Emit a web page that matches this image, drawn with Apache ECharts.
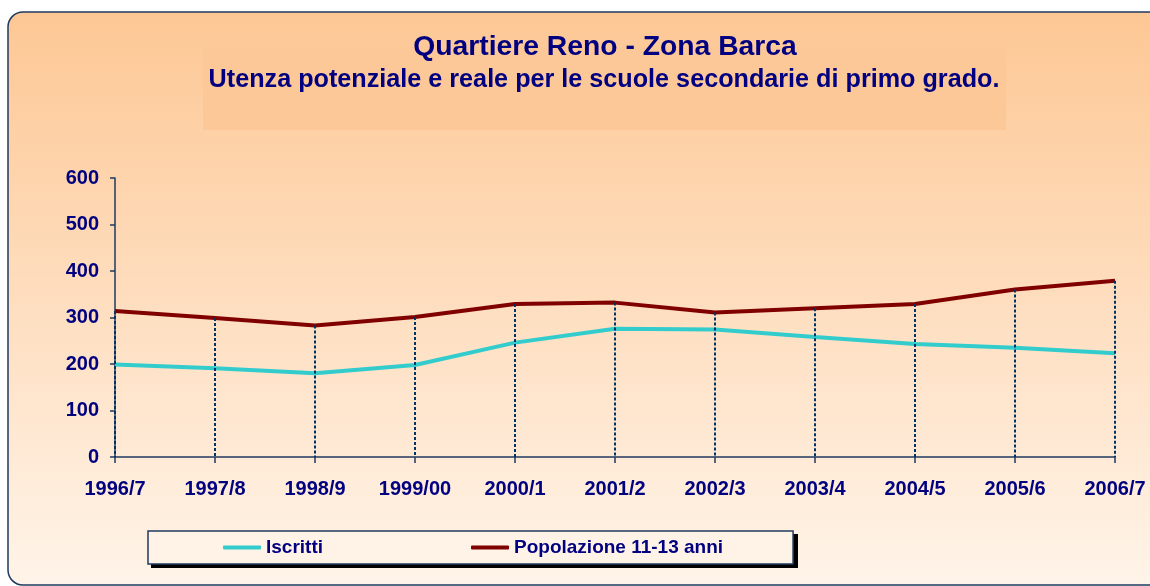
<!DOCTYPE html>
<html>
<head>
<meta charset="utf-8">
<script src="https://cdn.jsdelivr.net/npm/echarts@6/dist/echarts.min.js"></script>
<style>
    html,body{margin:0;padding:0;background:#fff;}
    #chart{width:1150px;height:586px;}
</style>
</head>
<body>
<div id="chart"></div>
<script>
// dati
var anni = ['1996/7','1997/8','1998/9','1999/00','2000/1','2001/2','2002/3','2003/4','2004/5','2005/6','2006/7'];
var iscritti = [199,191,180,198,246,276,274,258,243,235,223];
var popolazione = [314,299,283,301,329,332,311,320,329,360,379];
var yTicks = [0,100,200,300,400,500,600];

var font = 'Liberation Sans, Arial, sans-serif';
var blu = '#000080';
var assi = '#1F3A5F';

// linee di proiezione (dal valore massimo fino all'asse)
var dropLines = [];
popolazione.forEach(function (v, i) {
    dropLines.push([{coord: [i, v]}, {coord: [i, 0]}]);
});

var chart = echarts.init(document.getElementById('chart'));
var option = {
    animation: false,
    textStyle: {fontFamily: font},
    graphic: [
        {
            type: 'rect',
            z: -10,
            shape: {x: 8, y: 12, width: 1220, height: 573, r: 15},
            style: {
                fill: new echarts.graphic.LinearGradient(0, 0, 0, 1, [
                    {offset: 0, color: '#FDC794'},
                    {offset: 1, color: '#FFF4E9'}
                ]),
                stroke: assi,
                lineWidth: 1.5
            }
        },
        {
            type: 'rect',
            z: -9,
            shape: {x: 203, y: 47, width: 803, height: 83},
            style: {fill: '#FDC898'}
        },
        {
            // ombra della legenda
            type: 'rect',
            z: -8,
            shape: {x: 151, y: 534, width: 647, height: 34},
            style: {fill: '#000'}
        }
    ],
    title: [
        {
            text: 'Quartiere Reno - Zona Barca',
            left: 600,
            top: 28,
            textAlign: 'center',
            textStyle: {fontFamily: font, fontSize: 28.3, fontWeight: 'bold', color: blu}
        },
        {
            text: 'Utenza potenziale e reale per le scuole secondarie di primo grado.',
            left: 599,
            top: 63,
            textAlign: 'center',
            textStyle: {fontFamily: font, fontSize: 25.2, fontWeight: 'bold', color: blu}
        }
    ],
    legend: {
        left: 148,
        top: 531,
        padding: [7, 70, 7, 75],
        itemGap: 148,
        itemWidth: 38,
        itemHeight: 4,
        icon: 'roundRect',
        backgroundColor: '#FFF3E7',
        borderColor: assi,
        borderWidth: 1.5,
        textStyle: {fontFamily: font, fontSize: 19, fontWeight: 'bold', color: blu},
        data: ['Iscritti', 'Popolazione 11-13 anni']
    },
    grid: {left: 115, right: 35, top: 178, bottom: 129, containLabel: false},
    xAxis: {
        type: 'category',
        boundaryGap: false,
        data: anni,
        axisLine: {lineStyle: {color: assi, width: 1.5}},
        axisTick: {show: true, length: 6, lineStyle: {color: assi, width: 1.5}},
        axisLabel: {margin: 22, fontFamily: font, fontSize: 20, fontWeight: 'bold', color: blu, interval: 0},
        splitLine: {show: false}
    },
    yAxis: {
        type: 'value',
        min: yTicks[0],
        max: yTicks[yTicks.length - 1],
        interval: 100,
        axisLine: {show: true, lineStyle: {color: assi, width: 1.5}},
        axisTick: {show: true, length: 5, lineStyle: {color: assi, width: 1.5}},
        axisLabel: {margin: 16, fontFamily: font, fontSize: 20, fontWeight: 'bold', color: blu},
        splitLine: {show: false}
    },
    series: [
        {
            name: 'Iscritti',
            type: 'line',
            data: iscritti,
            symbol: 'none',
            lineStyle: {color: '#33CCCC', width: 4},
            itemStyle: {color: '#33CCCC'}
        },
        {
            name: 'Popolazione 11-13 anni',
            type: 'line',
            data: popolazione,
            symbol: 'none',
            lineStyle: {color: '#800000', width: 4},
            itemStyle: {color: '#800000'},
            markLine: {
                silent: true,
                symbol: ['none', 'none'],
                label: {show: false},
                lineStyle: {color: '#003366', width: 2, type: [3, 2]},
                data: dropLines
            }
        }
    ]
};
chart.setOption(option);
</script>
</body>
</html>
